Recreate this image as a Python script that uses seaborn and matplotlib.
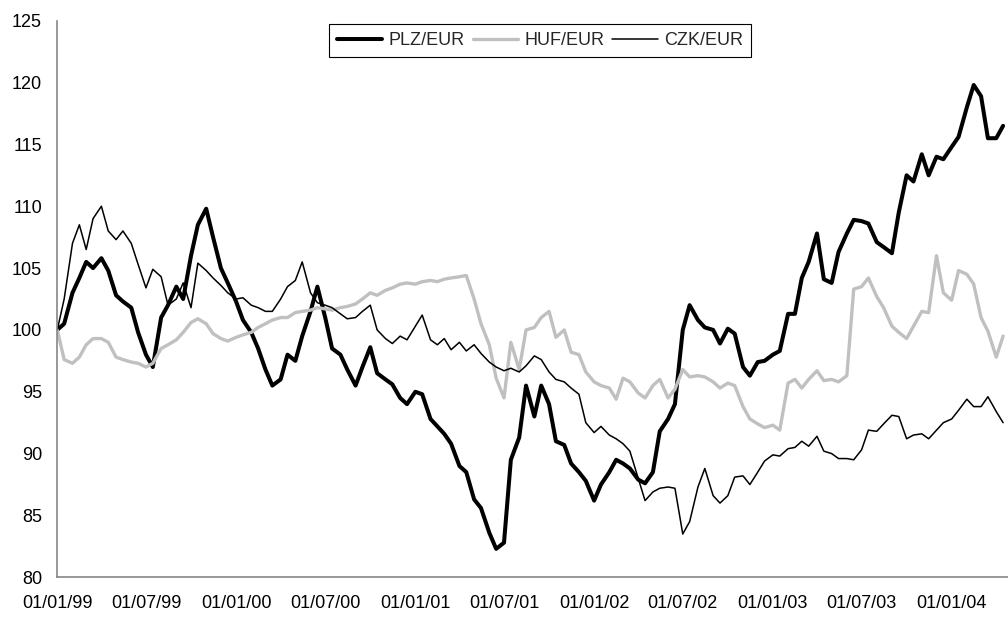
import matplotlib
matplotlib.use("Agg")
import matplotlib.pyplot as plt
import matplotlib.dates as mdates
import seaborn as sns
import pandas as pd

sns.set_style("white")
plt.rcParams['font.family'] = ['Liberation Sans', 'DejaVu Sans']
plt.rcParams['font.size'] = 13

# semi-monthly readings (1st and 15th), Jan 1999 - Apr 2004, index 01/01/99 = 100
plz_eur = [
    100.0, 100.5, 103.0, 104.2, 105.5, 105.0, 105.8, 104.8, 102.8, 102.3,
    101.8, 99.8, 98.0, 97.0, 101.0, 102.0, 103.5, 102.5, 106.0, 108.5,
    109.8, 107.5, 105.0, 103.8, 102.3, 100.8, 99.8, 98.5, 96.8, 95.5,
    96.0, 98.0, 97.5, 99.5, 101.5, 103.5, 101.0, 98.5, 98.0,
    96.8, 95.5, 97.0, 98.6, 96.5, 96.0, 95.6, 94.5, 94.0, 95.0,
    94.8, 92.8, 92.2, 91.6, 90.8, 89.0, 88.5, 86.3, 85.6, 83.6,
    82.3, 82.8, 89.5, 91.3, 95.5, 93.0, 95.5, 94.0, 91.0, 90.7,
    89.2, 88.5, 87.8, 86.2, 87.5, 88.5, 89.5,
    89.2, 88.8, 87.9, 87.6, 88.5, 91.8, 92.8, 94.0, 100.0, 102.0,
    100.8, 100.2, 100.0, 98.9, 100.1, 99.7, 97.0, 96.3, 97.4, 97.5,
    98.0, 98.3, 101.3, 101.3, 104.2, 105.5, 107.8, 104.1, 103.8, 106.3,
    107.8, 108.9, 108.8, 108.6, 107.1, 106.7, 106.2, 109.5, 112.5, 112.0,
    114.2, 112.5, 114.0, 113.8, 114.8, 115.6, 118.0, 119.8, 118.9, 115.5,
    115.5, 116.5,
]

huf_eur = [
    100.0, 97.6, 97.3, 97.8, 98.8, 99.3, 99.3, 99.0, 97.8, 97.6,
    97.4, 97.3, 97.0, 97.3, 98.5, 98.8, 99.2, 99.8, 100.6, 100.9,
    100.5, 99.7, 99.3, 99.1, 99.4, 99.6, 99.8, 100.2, 100.5, 100.8,
    101.0, 101.0, 101.4, 101.5, 101.6, 101.8, 101.7, 101.6, 101.8,
    101.9, 102.1, 102.5, 103.0, 102.8, 103.2, 103.4, 103.7, 103.8, 103.7,
    103.9, 104.0, 103.9, 104.1, 104.2, 104.3, 104.4, 102.5, 100.5, 98.8,
    96.1, 94.5, 99.0, 96.8, 100.0, 100.2, 101.0, 101.5, 99.4, 100.0,
    98.2, 98.0, 96.6, 95.8, 95.5, 95.3, 94.4,
    96.1, 95.8, 94.9, 94.5, 95.5, 96.0, 94.5, 95.2, 96.8, 96.2,
    96.3, 96.2, 95.8, 95.3, 95.7, 95.5, 93.8, 92.8, 92.4, 92.1,
    92.3, 91.9, 95.7, 96.0, 95.3, 96.0, 96.7, 95.9, 96.0, 95.8,
    96.3, 103.3, 103.5, 104.2, 102.7, 101.8, 100.3, 99.8, 99.3, 100.3,
    101.5, 101.4, 106.0, 103.0, 102.4, 104.8, 104.5, 103.7, 101.0, 99.9,
    97.8, 99.5,
]

czk_eur = [
    100.0, 102.5, 107.0, 108.5, 106.5, 109.0, 110.0, 108.0, 107.3, 108.0,
    107.0, 105.3, 103.4, 104.9, 104.3, 102.0, 102.5, 103.8, 101.8, 105.4,
    104.8, 104.2, 103.6, 103.0, 102.5, 102.6, 102.0, 101.8, 101.5, 101.5,
    102.5, 103.5, 104.0, 105.5, 103.0, 102.2, 102.0, 101.8, 101.3,
    100.9, 101.0, 101.5, 102.0, 100.0, 99.3, 98.9, 99.5, 99.2, 100.3,
    101.2, 99.2, 98.8, 99.3, 98.4, 99.0, 98.3, 98.8, 98.1, 97.4,
    97.0, 96.7, 96.9, 96.6, 97.1, 97.9, 97.6, 96.6, 96.0, 95.8,
    95.3, 94.8, 92.5, 91.7, 92.2, 91.5, 91.2,
    90.8, 90.2, 88.0, 86.2, 86.9, 87.2, 87.3, 87.2, 83.5, 84.5,
    87.3, 88.8, 86.6, 86.0, 86.6, 88.1, 88.2, 87.5, 88.5, 89.4,
    89.9, 89.8, 90.4, 90.5, 91.0, 90.6, 91.4, 90.2, 90.0, 89.6,
    89.6, 89.5, 90.3, 91.9, 91.8, 92.4, 93.1, 93.0, 91.2, 91.5,
    91.6, 91.2, 91.9, 92.5, 92.8, 93.5, 94.4, 93.8, 93.8, 94.6,
    93.4, 92.5,
]

series_names = ['PLZ/EUR', 'HUF/EUR', 'CZK/EUR']
series_colors = ['#000000', '#c0c0c0', '#000000']
series_widths = [2.9, 2.4, 1.1]

dates = pd.date_range('1999-01-01', periods=len(plz_eur), freq='SMS')
df = pd.DataFrame({'date': dates, 'PLZ/EUR': plz_eur,
                   'HUF/EUR': huf_eur, 'CZK/EUR': czk_eur})

fig = plt.figure(figsize=(10.08, 6.17), dpi=100)
ax = fig.add_axes([57.3 / 1008, 1 - 577.3 / 617, 1 - 57.3 / 1008, (577.3 - 20.7) / 617])

for name, col, lw in zip(series_names, series_colors, series_widths):
    sns.lineplot(data=df, x='date', y=name, color=col, linewidth=lw,
                 label=name, ax=ax)

ax.set_ylim(80, 125)
ax.set_yticks(range(80, 126, 5))
ax.set_xlim(pd.Timestamp('1999-01-01'), pd.Timestamp('2004-04-25'))
ax.xaxis.set_major_locator(mdates.MonthLocator(bymonth=[1, 7], bymonthday=1))
ax.xaxis.set_major_formatter(mdates.DateFormatter('%d/%m/%y'))
ax.set_xlabel('')
ax.set_ylabel('')

for s in ['top', 'right']:
    ax.spines[s].set_visible(False)
for s in ['left', 'bottom']:
    ax.spines[s].set_color('#868686')
    ax.spines[s].set_linewidth(1.2)
ax.tick_params(axis='both', direction='out', length=5, width=1, color='#868686',
               labelsize=13, labelcolor='black')
ax.tick_params(axis='y', pad=6)
ax.tick_params(axis='x', pad=8)

leg = ax.legend(loc='upper left', bbox_to_anchor=(329 / 1008, 1 - 24 / 617),
                bbox_transform=fig.transFigure, ncol=3, frameon=True,
                fancybox=False, shadow=False, framealpha=1, edgecolor='black',
                borderaxespad=0, borderpad=0.45, handlelength=2.5,
                handletextpad=0.35, columnspacing=0.45, fontsize=13)
leg.get_frame().set_linewidth(0.8)

plt.savefig('out.png', dpi=100)
plt.close()
